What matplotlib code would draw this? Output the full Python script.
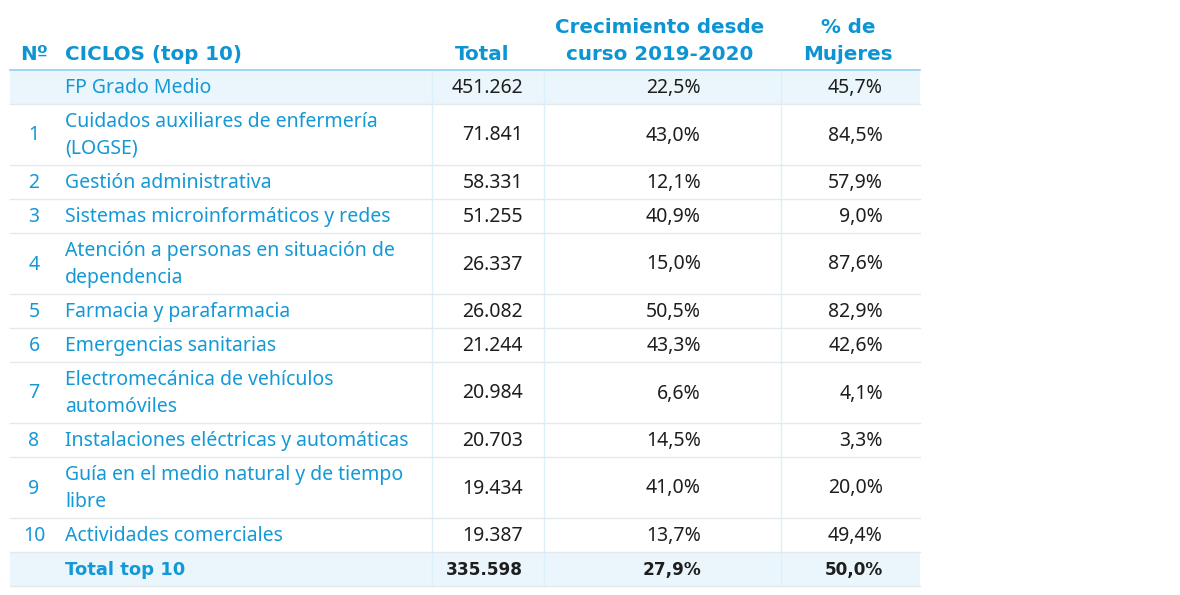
import matplotlib.pyplot as plt

# < data >--------------------------------------------------------------------

ranks = ["", "1", "2", "3", "4", "5", "6", "7", "8", "9", "10", ""]
ciclos = [
    "FP Grado Medio",
    "Cuidados auxiliares de enfermería\n(LOGSE)",
    "Gestión administrativa",
    "Sistemas microinformáticos y redes",
    "Atención a personas en situación de\ndependencia",
    "Farmacia y parafarmacia",
    "Emergencias sanitarias",
    "Electromecánica de vehículos\nautomóviles",
    "Instalaciones eléctricas y automáticas",
    "Guía en el medio natural y de tiempo\nlibre",
    "Actividades comerciales",
    "Total top 10",
]
totales = [451262, 71841, 58331, 51255, 26337, 26082, 21244, 20984, 20703, 19434, 19387, 335598]
crecimiento = [22.5, 43.0, 12.1, 40.9, 15.0, 50.5, 43.3, 6.6, 14.5, 41.0, 13.7, 27.9]
mujeres = [45.7, 84.5, 57.9, 9.0, 87.6, 82.9, 42.6, 4.1, 3.3, 20.0, 49.4, 50.0]

headers = ["Nº", "CICLOS (top 10)", "Total", "Crecimiento desde\ncurso 2019-2020", "% de\nMujeres"]

# < style >-------------------------------------------------------------------

BLUE = "#1499d6"
BLUE_HEAD = "#0d95d3"
DARK = "#1e1e1e"
SHADE = "#eaf6fc"
SEP = "#e2eaee"
VLINE = "#dcf0f9"
FONT = "Noto Sans"
FONT_BOLD = "DejaVu Sans"
FS = 14.0
FS_HEAD = 14.3

plt.rcParams["font.family"] = [FONT, "DejaVu Sans"]


def fmt_int(v):
    return f"{v:,}".replace(",", ".")


def fmt_pct(v):
    return f"{v:.1f}%".replace(".", ",")


# ---------------------------------------------------------------------------
def main():
    fig = plt.figure(figsize=(11.8, 5.95), dpi=100)
    ax = fig.add_axes([0, 0, 1, 1])
    ax.set_xlim(0, 1180)
    ax.set_ylim(595, 0)
    ax.axis("off")

    x0, x1 = 10, 920
    y_head = 70

    # header
    hk = dict(color=BLUE_HEAD, fontsize=FS_HEAD, fontweight="bold", family=FONT_BOLD, va="center")
    ax.text(20, 54, headers[0], ha="left", **hk)
    ax.text(65, 54, headers[1], ha="left", **hk)
    ax.text(509, 54, headers[2], ha="right", **hk)
    ax.text(660, 41, headers[3], ha="center", linespacing=1.5, **hk)
    ax.text(848, 41, headers[4], ha="center", linespacing=1.5, **hk)

    # rows
    y = y_head
    n = len(ciclos)
    for i in range(n):
        lines = ciclos[i].count("\n") + 1
        h = 34 if lines == 1 else 61
        shaded = i == 0 or i == n - 1
        bold = i == n - 1
        if shaded:
            ax.add_patch(plt.Rectangle((x0, y), x1 - x0, h, color=SHADE, zorder=0, lw=0))
        yc = y + h / 2 + 1
        if bold:
            bk = dict(fontweight="bold", family=FONT_BOLD, fontsize=13.0)
            nk = dict(fontweight="bold", family=FONT_BOLD, fontsize=12.2)
        else:
            bk = dict(fontsize=FS)
            nk = bk
        ax.text(34, yc, ranks[i], color=BLUE, fontsize=FS, va="center", ha="center")
        ax.text(65, yc, ciclos[i], color=BLUE, va="center", ha="left", linespacing=1.44, **bk)
        ax.text(523, yc, fmt_int(totales[i]), color=DARK, va="center", ha="right", **nk)
        ax.text(701, yc, fmt_pct(crecimiento[i]), color=DARK, va="center", ha="right", **nk)
        ax.text(883, yc, fmt_pct(mujeres[i]), color=DARK, va="center", ha="right", **nk)
        y += h
        ax.plot([x0, x1], [y, y], color=SEP, lw=1, zorder=2)

    for xv in [432, 544, 781]:
        ax.plot([xv, xv], [y_head, y], color=VLINE, lw=1, zorder=1)

    ax.plot([x0, x1], [y_head, y_head], color="#8fd1ef", lw=1.2, zorder=3)

    fig.savefig("out.png", dpi=100, facecolor="white")


if __name__ == "__main__":
    main()
